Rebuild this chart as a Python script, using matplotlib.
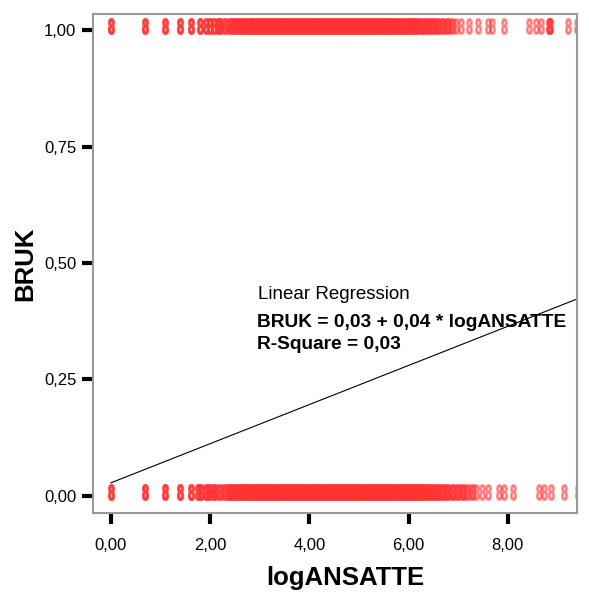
import matplotlib
matplotlib.use("Agg")
import matplotlib.pyplot as plt
import matplotlib.transforms as mtransforms
from matplotlib.markers import MarkerStyle
import numpy as np

plt.rcParams['font.family'] = ['Liberation Sans', 'DejaVu Sans']

# logANSATTE values for cases with BRUK = 1 (well separated markers) and cases at each
top_single = [0.00, 0.69, 1.10, 1.39, 1.61, 1.79, 1.92, 2.00, 2.08, 2.16,
              7.05, 7.21, 7.39, 7.60, 7.68, 7.92, 8.42, 8.57, 8.67, 8.83, 8.85, 9.21, 9.39]
top_single_n = [3, 3, 3, 3, 3, 3, 3, 3, 3, 3,
                1, 1, 1, 1, 1, 1, 1, 1, 1, 2, 2, 1, 1]
# dense band for BRUK = 1: position and how many cases sit there
top_band = [2.2, 2.3, 2.4, 2.5, 2.6, 2.7, 2.8, 2.9, 3.0, 3.1, 3.2, 3.3, 3.4, 3.5,
            3.6, 3.7, 3.8, 3.9, 4.0, 4.1, 4.2, 4.3, 4.4, 4.5, 4.6, 4.7, 4.8, 4.9,
            5.0, 5.1, 5.2, 5.3, 5.4, 5.5, 5.6, 5.7, 5.8, 5.9, 6.0, 6.1, 6.2, 6.3,
            6.4, 6.5, 6.6, 6.7, 6.8, 6.9]
top_count = [3, 3, 4, 5, 5, 6, 6, 6, 6, 6, 6, 6, 6, 6,
             6, 6, 6, 6, 6, 6, 6, 6, 6, 6, 6, 6, 6, 6,
             6, 6, 6, 6, 6, 6, 6, 5, 5, 5, 5, 5, 4, 4,
             4, 4, 3, 3, 3, 2]

# logANSATTE values for cases with BRUK = 0
bot_single = [0.00, 0.69, 1.10, 1.39, 1.61, 1.75, 1.82, 1.92, 1.98, 2.05,
              7.49, 7.60, 7.82, 7.92, 8.10, 8.63, 8.73, 8.87, 9.13, 9.41]
bot_single_n = [3, 3, 3, 3, 3, 3, 3, 3, 3, 3,
                1, 1, 1, 1, 1, 1, 1, 1, 1, 1]
bot_band = [2.1, 2.2, 2.3, 2.4, 2.5, 2.6, 2.7, 2.8, 2.9, 3.0, 3.1, 3.2, 3.3, 3.4,
            3.5, 3.6, 3.7, 3.8, 3.9, 4.0, 4.1, 4.2, 4.3, 4.4, 4.5, 4.6, 4.7, 4.8,
            4.9, 5.0, 5.1, 5.2, 5.3, 5.4, 5.5, 5.6, 5.7, 5.8, 5.9, 6.0, 6.1, 6.2,
            6.3, 6.4, 6.5, 6.6, 6.7, 6.8, 6.9, 7.0, 7.1, 7.2, 7.3]
bot_count = [3, 3, 4, 5, 5, 6, 6, 6, 6, 6, 6, 6, 6, 6,
             6, 6, 6, 6, 6, 6, 6, 6, 6, 6, 6, 6, 6, 6,
             6, 6, 6, 6, 6, 6, 6, 6, 6, 6, 6, 6, 6, 6,
             5, 5, 5, 4, 4, 3, 3, 3, 3, 2, 2]

# fitted regression
intercept = 0.028
slope = 0.042
fit_range = [0.0, 9.4]

x_ticks = [0, 2, 4, 6, 8]
y_ticks = [0.0, 0.25, 0.5, 0.75, 1.0]

RED = '#ff3333'

fig = plt.figure(figsize=(5.89, 5.94), dpi=100)
ax = fig.add_axes([0.158, 0.137, 0.822, 0.839])

# tall narrow glyph, a little above the value, like the SPSS stacked markers
mk = MarkerStyle('$8$', transform=mtransforms.Affine2D().scale(0.62, 1.2))
style = dict(linestyle='none', marker=mk, markersize=9, color=RED,
             alpha=0.45, markeredgewidth=1.5)


def draw_row(single, single_n, band, count, yv):
    shift = mtransforms.offset_copy(ax.transData, fig=fig, x=0, y=4, units='dots')
    xs = np.repeat(single, single_n)
    ax.plot(xs, np.full(len(xs), yv), transform=shift, **style)
    # stacked cases overlap slightly sideways so the band reads as solid
    n_a = [c // 2 + c % 2 for c in count]
    n_b = [c // 2 for c in count]
    xa = np.repeat(band, n_a)
    xb = np.repeat(band, n_b)
    ax.plot(xa, np.full(len(xa), yv), transform=shift, **style)
    shift_b = mtransforms.offset_copy(ax.transData, fig=fig, x=2.5, y=4, units='dots')
    ax.plot(xb, np.full(len(xb), yv), transform=shift_b, **style)


draw_row(top_single, top_single_n, top_band, top_count, 1.0)
draw_row(bot_single, bot_single_n, bot_band, bot_count, 0.0)

fx = np.array(fit_range)
ax.plot(fx, intercept + slope * fx, color='black', lw=0.8)

ax.text(2.97, 0.433, "Linear Regression", fontsize=13.5, va='center')
ax.text(2.95, 0.373, "BRUK = 0,03 + 0,04 * logANSATTE", fontsize=13.8,
        fontweight='bold', va='center')
ax.text(2.95, 0.324, "R-Square = 0,03", fontsize=13.8, fontweight='bold', va='center')

ax.set_xlim(-0.36, 9.4)
ax.set_ylim(-0.036, 1.034)
ax.set_xticks(x_ticks)
ax.set_xticklabels([f"{v:.2f}".replace('.', ',') for v in x_ticks])
ax.set_yticks(y_ticks)
ax.set_yticklabels([f"{v:.2f}".replace('.', ',') for v in y_ticks])
ax.tick_params(direction='out', length=8, width=3, color='black', labelsize=12)
ax.tick_params(axis='x', pad=10)
ax.tick_params(axis='y', pad=4)

for sp in ax.spines.values():
    sp.set_color('#999999')
    sp.set_linewidth(1.5)

fig.text(345 / 589, 1 - 578 / 594, "logANSATTE", fontsize=18.5, fontweight='bold',
         ha='center', va='center')
fig.text(25 / 589, 1 - 264 / 594, "BRUK", fontsize=18.5, fontweight='bold',
         ha='center', va='center', rotation=90)

fig.savefig("out.png", dpi=100)
